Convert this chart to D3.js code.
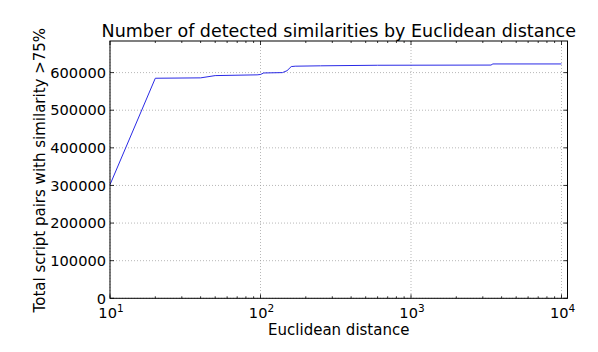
<!DOCTYPE html>
<html>
<head>
<meta charset="utf-8">
<script src="https://cdn.jsdelivr.net/npm/d3@7"></script>
<style>
  body { margin: 0; background: #fff; }
  svg text { font-family: "DejaVu Sans", sans-serif; fill: #000; }
</style>
</head>
<body>
<svg id="chart" width="598" height="352"></svg>
<script>
// distance thresholds and cumulative pair counts
const distances = [10, 20, 40, 50, 95, 100, 105, 140, 150, 160, 170, 250, 600, 3400, 3500, 10000];
const pairCounts = [302000, 585000, 586000, 592000, 594000, 595000, 599000, 600000, 605000, 616000, 617000, 618000, 619500, 620000, 623000, 623000];
const yTicks = [0, 100000, 200000, 300000, 400000, 500000, 600000];
const xTicks = [10, 100, 1000, 10000];
const xExp = ["1", "2", "3", "4"];

const plotLeft = 110, plotRight = 567.5, plotTop = 41, plotBottom = 298.3;
const svg = d3.select("#chart");

let x = d3.scaleLog().domain([10, 10960]).range([plotLeft, plotRight]);
let y = d3.scaleLinear().domain([0, 684000]).range([plotBottom, plotTop]);

// grid
let grid = svg.append("g");
grid.selectAll(".gx").data(xTicks).enter().append("line")
    .attr("x1", d => x(d)).attr("x2", d => x(d))
    .attr("y1", plotTop).attr("y2", plotBottom)
    .attr("stroke", "#999").attr("stroke-width", 0.7)
    .attr("stroke-dasharray", "1,2");
grid.selectAll(".gy").data(yTicks).enter().append("line")
    .attr("x1", plotLeft).attr("x2", plotRight)
    .attr("y1", d => y(d)).attr("y2", d => y(d))
    .attr("stroke", "#999").attr("stroke-width", 0.7)
    .attr("stroke-dasharray", "1,2");

// minor log ticks
let minor = [];
for (let e = 1; e <= 4; e++) {
    for (let m = 2; m <= 9; m++) {
        let v = m * Math.pow(10, e);
        if (v <= 10960) minor.push(v);
    }
}

let ticks = svg.append("g").attr("stroke", "#000").attr("stroke-width", 0.8);
xTicks.forEach(function(d) {
    ticks.append("line").attr("x1", x(d)).attr("x2", x(d)).attr("y1", plotBottom).attr("y2", plotBottom - 4);
    ticks.append("line").attr("x1", x(d)).attr("x2", x(d)).attr("y1", plotTop).attr("y2", plotTop + 4);
});
minor.forEach(function(d) {
    ticks.append("line").attr("x1", x(d)).attr("x2", x(d)).attr("y1", plotBottom).attr("y2", plotBottom - 2);
    ticks.append("line").attr("x1", x(d)).attr("x2", x(d)).attr("y1", plotTop).attr("y2", plotTop + 2);
});
yTicks.forEach(function(d) {
    ticks.append("line").attr("x1", plotLeft).attr("x2", plotLeft + 4).attr("y1", y(d)).attr("y2", y(d));
    ticks.append("line").attr("x1", plotRight).attr("x2", plotRight - 4).attr("y1", y(d)).attr("y2", y(d));
});

// data line
let line = d3.line().x((d, i) => x(distances[i])).y(d => y(d));
svg.append("path")
    .datum(pairCounts)
    .attr("d", line)
    .attr("fill", "none")
    .attr("stroke", "#2a2ae6")
    .attr("stroke-width", 1);

// frame
svg.append("rect")
    .attr("x", plotLeft).attr("y", plotTop)
    .attr("width", plotRight - plotLeft).attr("height", plotBottom - plotTop)
    .attr("fill", "none").attr("stroke", "#000").attr("stroke-width", 1);

// y tick labels
svg.selectAll(".yl").data(yTicks).enter().append("text")
    .attr("x", plotLeft - 4)
    .attr("y", d => y(d))
    .attr("dy", "0.36em")
    .attr("text-anchor", "end")
    .style("font-size", "14.6px")
    .text(d => d);

// x tick labels with superscript exponent
xTicks.forEach(function(d, i) {
    let t = svg.append("text")
        .attr("x", x(d) + 1)
        .attr("y", plotBottom + 20)
        .attr("text-anchor", "middle")
        .style("font-size", "14.6px");
    t.append("tspan").text("10");
    t.append("tspan").attr("dy", "-6").style("font-size", "10.5px").text(xExp[i]);
});

svg.append("text")
    .attr("x", (plotLeft + plotRight) / 2)
    .attr("y", 335)
    .attr("text-anchor", "middle")
    .style("font-size", "15px")
    .text("Euclidean distance");

svg.append("text")
    .attr("transform", "translate(45," + ((plotTop + plotBottom) / 2 + 0.5) + ") rotate(-90)")
    .attr("text-anchor", "middle")
    .style("font-size", "15px")
    .text("Total script pairs with similarity >75%");

svg.append("text")
    .attr("x", (plotLeft + plotRight) / 2)
    .attr("y", 36.5)
    .attr("text-anchor", "middle")
    .style("font-size", "17.5px")
    .text("Number of detected similarities by Euclidean distance");
</script>
</body>
</html>
